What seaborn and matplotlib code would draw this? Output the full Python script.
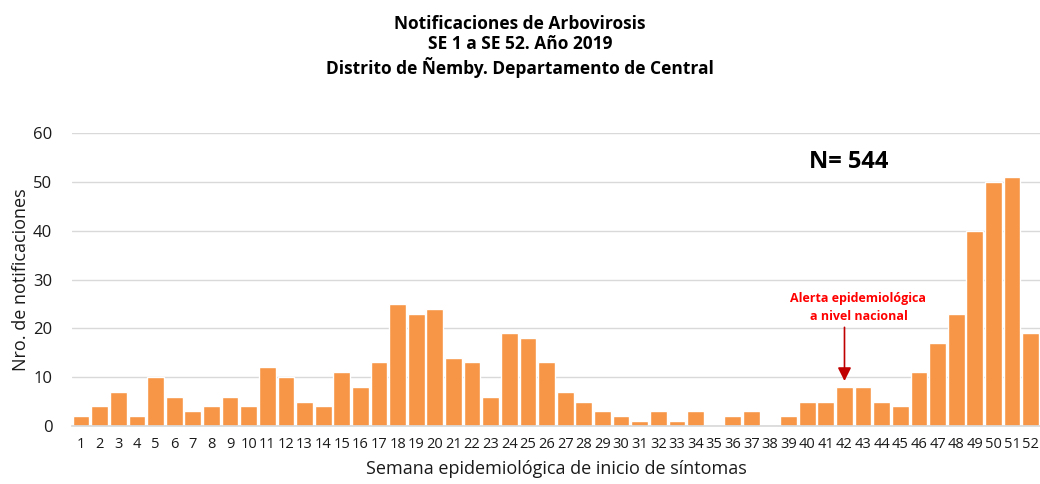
import pandas as pd
import seaborn as sns
import matplotlib.pyplot as plt

# semanas epidemiologicas y notificaciones por semana
semanas = list(range(1, 53))
notificaciones = [2, 4, 7, 2, 10, 6, 3, 4, 6, 4,
                  12, 10, 5, 4, 11, 8, 13, 25, 23, 24,
                  14, 13, 6, 19, 18, 13, 7, 5, 3, 2,
                  1, 3, 1, 3, 0, 2, 3, 0, 2, 5,
                  5, 8, 8, 5, 4, 11, 17, 23, 40, 50,
                  51, 19]
semana_alerta = 42
total = sum(notificaciones)

df = pd.DataFrame({'semana': [str(s) for s in semanas], 'n': notificaciones})

sns.set_theme(style='white')
plt.rcParams['font.family'] = ['Open Sans', 'DejaVu Sans']

fig = plt.figure(figsize=(10.4, 4.84), dpi=100)
ax = fig.add_axes([0.069, 0.12, 0.931, 0.605])

sns.barplot(data=df, x='semana', y='n', color='#F79646', saturation=1,
            width=0.9, ax=ax, zorder=2)

ax.set_ylim(0, 60)
ax.set_xlim(-0.5, len(semanas) - 0.5)
ax.set_yticks(range(0, 61, 10))
ax.yaxis.grid(True, color='#D9D9D9', linewidth=1, zorder=0)
ax.set_axisbelow(True)
for s in ['top', 'right', 'left']:
    ax.spines[s].set_visible(False)
ax.spines['bottom'].set_color('#D9D9D9')
ax.tick_params(axis='both', length=0, labelsize=10.5, colors='#1a1a1a')
ax.tick_params(axis='x', pad=8)
ax.tick_params(axis='y', pad=14, labelsize=12)

ax.set_xlabel('Semana epidemiológica de inicio de síntomas', fontsize=13, color='#1a1a1a', labelpad=6)
ax.set_ylabel('Nro. de notificaciones', fontsize=13, color='#1a1a1a', labelpad=2)

fig.suptitle('Notificaciones de Arbovirosis\nSE 1 a SE 52. Año 2019\nDistrito de Ñemby. Departamento de Central',
             fontsize=12.5, fontweight='bold', y=0.97, linespacing=1.2, color='black')

ax.text(41.2, 54, f'N= {total}', fontsize=17, fontweight='bold', ha='center', va='center', color='black')

xi = semanas.index(semana_alerta)
ax.text(xi + 0.75, 21, 'Alerta epidemiológica\na nivel nacional',
        ha='center', va='bottom', fontsize=9, fontweight='bold', color='#FF0000', linespacing=1.5)
ax.annotate('', xy=(xi, notificaciones[xi] + 1.2), xytext=(xi, 20.2),
            arrowprops=dict(arrowstyle='-|>', color='#C00000', lw=1.2,
                            mutation_scale=20, shrinkA=0, shrinkB=0))

fig.savefig('out.png', dpi=100)
